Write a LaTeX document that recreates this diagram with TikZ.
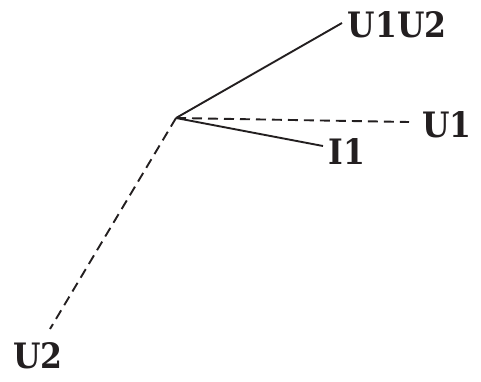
\documentclass[tikz,border=0pt]{standalone}
\usepackage{fontspec}
\setmainfont{DejaVu Serif Condensed}
\usetikzlibrary{positioning}
\definecolor{tinte}{HTML}{231F20}

\begin{document}
\begin{tikzpicture}[x=1pt,y=-1pt,line width=1.9pt,color=tinte,
	zeiger/.style={draw},
	hilfe/.style={draw,dash pattern=on 10pt off 6pt},
	marke/.style={inner sep=0pt,font=\bfseries\fontsize{35}{35}\selectfont}]
\useasboundingbox (0,0) rectangle (481,381);

\coordinate (O) at (176,118);
\coordinate (eU1U2) at (342,23);
\coordinate (eU1) at (409,122);
\coordinate (eI1) at (323,146);
\coordinate (eU2) at (50,329);

\draw[zeiger] (O) -- (eU1U2);
\draw[hilfe] (O) -- (eU1);
\draw[zeiger] (O) -- (eI1);
\draw[hilfe] (O) -- (eU2);

\node[marke] (lU1U2) at (397,25) {U1U2};
\node[marke] (lU1) at (447,125) {U1};
\node[marke] (lI1) at (347,152) {I1};
\node[marke] (lU2) at (38,356) {U2};

\end{tikzpicture}
\end{document}
